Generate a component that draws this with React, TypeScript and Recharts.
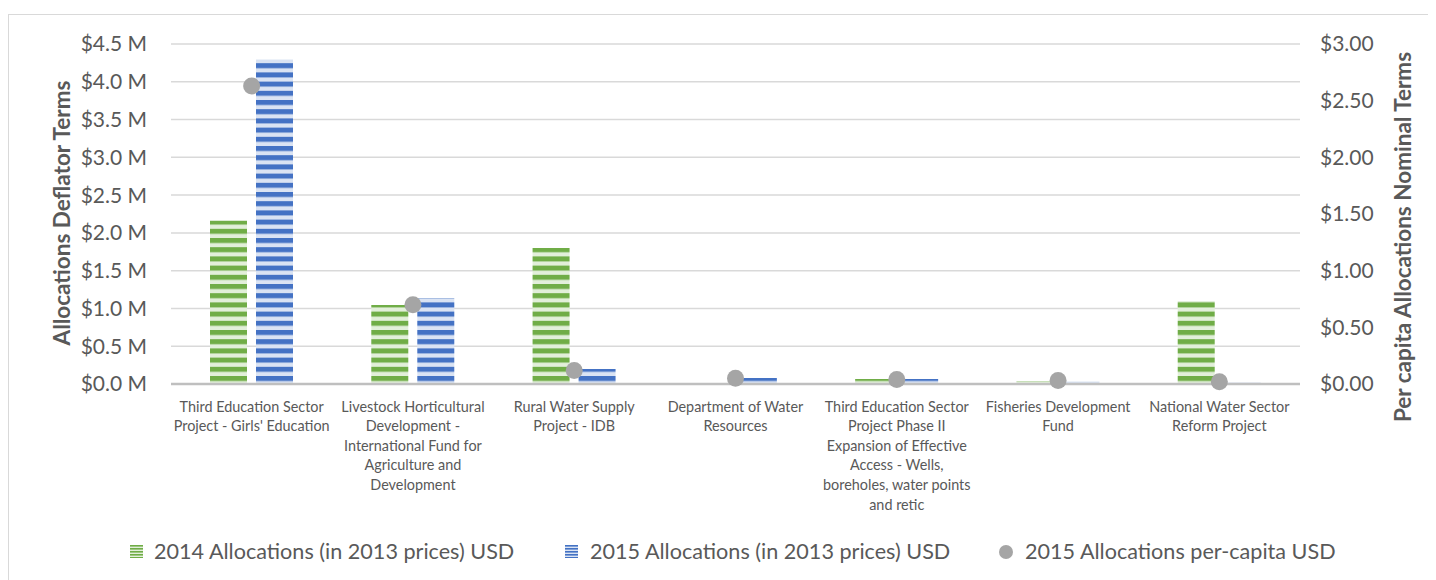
import { ComposedChart, Bar, Line, XAxis, YAxis, CartesianGrid, Legend } from 'recharts';

// category names and how they wrap under the axis
const categories = [
  "Third Education Sector Project - Girls' Education",
  'Livestock Horticultural Development - International Fund for Agriculture and Development',
  'Rural Water Supply Project - IDB',
  'Department of Water Resources',
  'Third Education Sector Project Phase II Expansion of Effective Access - Wells, boreholes, water points and retic',
  'Fisheries Development Fund',
  'National Water Sector Reform Project',
];
const categoryLines = [
  ['Third Education Sector', "Project - Girls' Education"],
  ['Livestock Horticultural', 'Development -', 'International Fund for', 'Agriculture and', 'Development'],
  ['Rural Water Supply', 'Project - IDB'],
  ['Department of Water', 'Resources'],
  ['Third Education Sector', 'Project Phase II', 'Expansion of Effective', 'Access - Wells,', 'boreholes, water points', 'and retic'],
  ['Fisheries Development', 'Fund'],
  ['National Water Sector', 'Reform Project'],
];

// USD, 2013 prices
const alloc2014 = [2160000, 1046000, 1800000, 0, 66000, 40000, 1100000];
const alloc2015 = [4290000, 1138000, 200000, 80000, 66000, 30000, 20000];
// USD per capita
const perCapita2015 = [2.63, 0.7, 0.12, 0.05, 0.04, 0.03, 0.02];

const leftTicks = [0, 500000, 1000000, 1500000, 2000000, 2500000, 3000000, 3500000, 4000000, 4500000];
const rightTicks = [0, 0.5, 1, 1.5, 2, 2.5, 3];

const seriesNames = [
  '2014 Allocations (in 2013 prices) USD',
  '2015 Allocations (in 2013 prices) USD',
  '2015 Allocations per-capita USD',
];

const data = categories.map((name, i) => ({
  name,
  a2014: alloc2014[i],
  a2015: alloc2015[i],
  perCapita: perCapita2015[i],
}));

const FONT = 'Lato, "Open Sans", sans-serif';
const GREY = '#595959';

const CategoryTick = ({ x, y, payload }: any) => {
  const lines = categoryLines[payload.index] || [payload.value];
  return (
    <text x={x} y={y} textAnchor="middle" fill={GREY} fontSize={14.4} fontFamily={FONT}>
      {lines.map((l, i) => (
        <tspan key={i} x={x} dy={i === 0 ? 25.5 : 19.6}>
          {l}
        </tspan>
      ))}
    </text>
  );
};

const StripeIcon = ({ id }: { id: string }) => (
  <svg width={13} height={13} style={{ display: 'block' }}>
    <rect x={0} y={0} width={13} height={13} fill={`url(#${id}-icon)`} />
  </svg>
);

const legendItem = (left: number, textLeft: number, icon: any, label: string) => (
  <div key={label}>
    <div style={{ position: 'absolute', left, top: 21 }}>{icon}</div>
    <span style={{ position: 'absolute', left: textLeft, top: 14, lineHeight: '26px', whiteSpace: 'nowrap' }}>
      {label}
    </span>
  </div>
);

const LegendContent = () => (
  <div
    style={{
      position: 'relative',
      height: 56,
      width: 1420,
      fontFamily: FONT,
      fontSize: 21.6,
      color: GREY,
    }}
  >
    {legendItem(122, 146, <StripeIcon id="green" />, seriesNames[0])}
    {legendItem(557, 582, <StripeIcon id="blue" />, seriesNames[1])}
    {legendItem(
      991,
      1017,
      <svg width={14} height={14} style={{ display: 'block' }}>
        <circle cx={7} cy={7} r={7} fill="#a5a5a5" />
      </svg>,
      seriesNames[2],
    )}
  </div>
);

const titleStyle = {
  position: 'absolute' as const,
  transform: 'translate(-50%, -50%) rotate(-90deg)',
  whiteSpace: 'nowrap' as const,
  fontFamily: FONT,
  fontWeight: 700,
  color: GREY,
};

export default function App() {
  return (
    <div style={{ position: 'relative', width: 1420, height: 572 }}>
      <div
        style={{
          position: 'absolute',
          left: 0,
          top: 6,
          width: 1420,
          height: 566,
          borderTop: '1px solid #d9d9d9',
          borderLeft: '1px solid #d9d9d9',
        }}
      />
      <ComposedChart
        width={1420}
        height={572}
        data={data}
        margin={{ top: 36, right: 64, left: 73, bottom: 0 }}
        barSize={37}
        barGap={9}
      >
        <defs>
          <pattern id="green" patternUnits="userSpaceOnUse" width={10} height={9.2}>
            <rect x={0} y={0} width={10} height={9.2} fill="#e2efda" />
            <rect x={0} y={0} width={10} height={5} fill="#70ad47" />
          </pattern>
          <pattern id="blue" patternUnits="userSpaceOnUse" width={10} height={9.2}>
            <rect x={0} y={0} width={10} height={9.2} fill="#dae3f3" />
            <rect x={0} y={0} width={10} height={5} fill="#4472c4" />
          </pattern>
        </defs>
        <CartesianGrid vertical={false} stroke="#d9d9d9" strokeWidth={1.5} yAxisId="left" />
        <XAxis
          dataKey="name"
          tick={<CategoryTick />}
          tickLine={false}
          tickSize={0}
          axisLine={{ stroke: '#bfbfbf', strokeWidth: 2.5 }}
          height={140}
          interval={0}
        />
        <YAxis
          yAxisId="left"
          width={90}
          domain={[0, 4500000]}
          ticks={leftTicks}
          axisLine={false}
          tickLine={false}
          tickSize={0}
          tickMargin={24}
          tickFormatter={(v: number) => `$${(v / 1000000).toFixed(1)} M`}
          tick={{ fill: GREY, fontSize: 21, fontFamily: FONT }}
        />
        <YAxis
          yAxisId="right"
          orientation="right"
          width={64}
          domain={[0, 3]}
          ticks={rightTicks}
          axisLine={false}
          tickLine={false}
          tickSize={0}
          tickMargin={20}
          tickFormatter={(v: number) => `$${v.toFixed(2)}`}
          tick={{ fill: GREY, fontSize: 21, fontFamily: FONT }}
        />
        <Bar yAxisId="left" dataKey="a2014" name={seriesNames[0]} fill="url(#green)" isAnimationActive={false} />
        <Bar yAxisId="left" dataKey="a2015" name={seriesNames[1]} fill="url(#blue)" isAnimationActive={false} />
        <Line
          yAxisId="right"
          dataKey="perCapita"
          name={seriesNames[2]}
          stroke="none"
          dot={{ r: 8.5, fill: '#a5a5a5', stroke: 'none' }}
          activeDot={false}
          isAnimationActive={false}
        />
        <Legend content={<LegendContent />} verticalAlign="bottom" wrapperStyle={{ left: 0, width: 1420 }} />
      </ComposedChart>
      <svg width={0} height={0} style={{ position: 'absolute' }}>
        <defs>
          <pattern id="green-icon" patternUnits="userSpaceOnUse" width={13} height={3}>
            <rect x={0} y={0} width={13} height={3} fill="#e2efda" />
            <rect x={0} y={0} width={13} height={1.6} fill="#70ad47" />
          </pattern>
          <pattern id="blue-icon" patternUnits="userSpaceOnUse" width={13} height={3}>
            <rect x={0} y={0} width={13} height={3} fill="#dae3f3" />
            <rect x={0} y={0} width={13} height={1.6} fill="#4472c4" />
          </pattern>
        </defs>
      </svg>
      <div style={{ ...titleStyle, left: 53, top: 205, fontSize: 22.5 }}>Allocations Deflator Terms</div>
      <div style={{ ...titleStyle, left: 1394, top: 229, fontSize: 22.5 }}>Per capita Allocations Nominal Terms</div>
    </div>
  );
}
